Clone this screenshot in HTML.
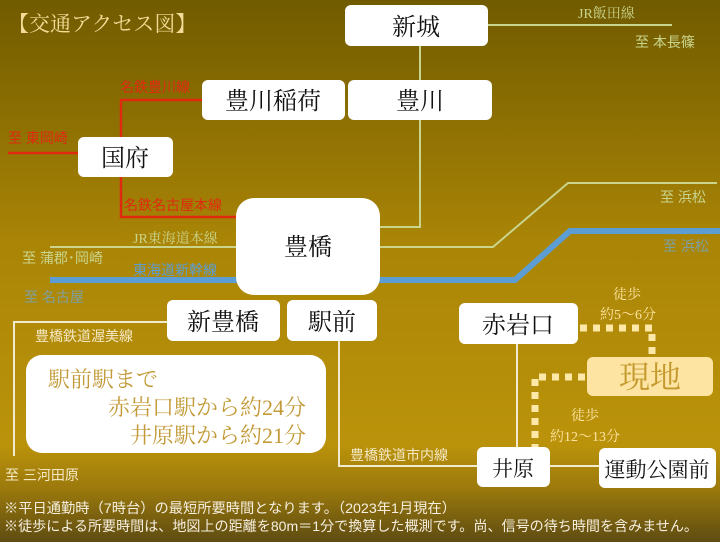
<!DOCTYPE html>
<html><head><meta charset="utf-8"><style>
html,body{margin:0;padding:0;width:720px;height:542px;overflow:hidden}
svg{display:block}
text{font-family:"Liberation Serif","Noto Serif CJK SC","Noto Sans CJK JP",serif}
.s{font-family:"Liberation Sans","Noto Sans CJK JP",sans-serif}
</style></head><body>
<svg width="720" height="542" viewBox="0 0 720 542" xmlns="http://www.w3.org/2000/svg">
<defs>
<linearGradient id="bg" x1="0" y1="0" x2="0" y2="1">
<stop offset="0" stop-color="#715b00"/>
<stop offset="0.45" stop-color="#aa8506"/>
<stop offset="0.82" stop-color="#bb930b"/>
<stop offset="0.9" stop-color="#9c7a0c"/>
<stop offset="1" stop-color="#5e4c12"/>
</linearGradient>
</defs>
<rect width="720" height="542" fill="url(#bg)"/>
<text x="8" y="31" font-size="21" fill="#f2dc98">【交通アクセス図】</text>

<g stroke="#c9d48c" stroke-width="2" fill="none">
<path d="M488 25H672"/>
<path d="M420 46V227H380"/>
<path d="M50 247H236"/>
<path d="M380 247H493L568 183H717"/>
</g>
<path d="M50 280H515L570 231H720" stroke="#5c9ed4" stroke-width="6" fill="none"/>
<g stroke="#e02a10" stroke-width="2.5" fill="none">
<path d="M8 153H78"/>
<path d="M202 100H121V217H236"/>
</g>
<g stroke="#f2ead0" stroke-width="2" fill="none">
<path d="M167 322H14V456"/>
<path d="M339 341V466H477"/>
<path d="M550 466H599"/>
<path d="M517 344V447"/>
</g>
<g stroke="#fde8a8" stroke-width="7" fill="none" stroke-dasharray="7 6">
<path d="M580 328H652V357"/>
<path d="M585 377H535V447"/>
</g>

<g fill="#fff">
<rect x="345" y="5" width="143" height="41" rx="6"/>
<rect x="202" y="80" width="143" height="40" rx="6"/>
<rect x="348" y="80" width="144" height="40" rx="6"/>
<rect x="78" y="137" width="95" height="40" rx="6"/>
<rect x="236" y="198" width="144" height="97" rx="18"/>
<rect x="167" y="300" width="113" height="41" rx="6"/>
<rect x="287" y="300" width="90" height="41" rx="6"/>
<rect x="459" y="303" width="119" height="41" rx="6"/>
<rect x="477" y="447" width="73" height="40" rx="6"/>
<rect x="599" y="448" width="117" height="40" rx="6"/>
<rect x="26" y="355" width="300" height="98" rx="16"/>
</g>
<rect x="587" y="357" width="126" height="39" rx="6" fill="#fde4a2"/>

<g font-size="24" fill="#111" text-anchor="middle">
<text x="416" y="35">新城</text>
<text x="273" y="109">豊川稲荷</text>
<text x="420" y="109">豊川</text>
<text x="125" y="166">国府</text>
<text x="308" y="255">豊橋</text>
<text x="223" y="330">新豊橋</text>
<text x="332" y="330">駅前</text>
<text x="518" y="333">赤岩口</text>
<text x="513" y="476" font-size="21">井原</text>
<text x="657" y="477" font-size="21">運動公園前</text>
</g>
<text x="650" y="388" font-size="31" fill="#c49a2e" text-anchor="middle">現地</text>

<g font-size="22" fill="#c39a38">
<text x="48" y="387">駅前駅まで</text>
<text x="306" y="415" text-anchor="end">赤岩口駅から約24分</text>
<text x="306" y="443" text-anchor="end">井原駅から約21分</text>
</g>

<g font-size="14" fill="#e02a10" class="s">
<text x="120" y="92" class="s">名鉄豊川線</text>
<text x="8" y="143" class="s">至 東岡崎</text>
<text x="124" y="210" class="s">名鉄名古屋本線</text>
</g>
<g font-size="14" fill="#c9d48c">
<text x="578" y="18">JR飯田線</text>
<text x="635" y="47" class="s">至 本長篠</text>
<text x="133" y="243">JR東海道本線</text>
<text x="22" y="263" class="s">至 蒲郡･岡崎</text>
<text x="660" y="202" class="s">至 浜松</text>
</g>
<g font-size="14" fill="#7fa0a0" class="s">
<text x="133" y="275" class="s" fill="#5c9ed4">東海道新幹線</text>
<text x="24" y="302" class="s">至 名古屋</text>
<text x="663" y="251" class="s">至 浜松</text>
</g>
<g font-size="14" fill="#f4e8c4" class="s">
<text x="35" y="341" class="s">豊橋鉄道渥美線</text>
<text x="5" y="480" class="s">至 三河田原</text>
<text x="350" y="460" class="s">豊橋鉄道市内線</text>
</g>
<g font-size="14" fill="#fde4a2">
<text x="627" y="299" text-anchor="middle">徒歩</text>
<text x="628" y="319" text-anchor="middle">約5〜6分</text>
<text x="585" y="420" text-anchor="middle">徒歩</text>
<text x="585" y="441" text-anchor="middle">約12〜13分</text>
</g>
<g font-size="14" fill="#f6efe0" class="s">
<text x="4" y="513" class="s" textLength="452" lengthAdjust="spacingAndGlyphs">※平日通勤時（7時台）の最短所要時間となります。（2023年1月現在）</text>
<text x="4" y="531" class="s" textLength="694" lengthAdjust="spacingAndGlyphs">※徒歩による所要時間は、地図上の距離を80m＝1分で換算した概測です。尚、信号の待ち時間を含みません。</text>
</g>
</svg>
</body></html>
